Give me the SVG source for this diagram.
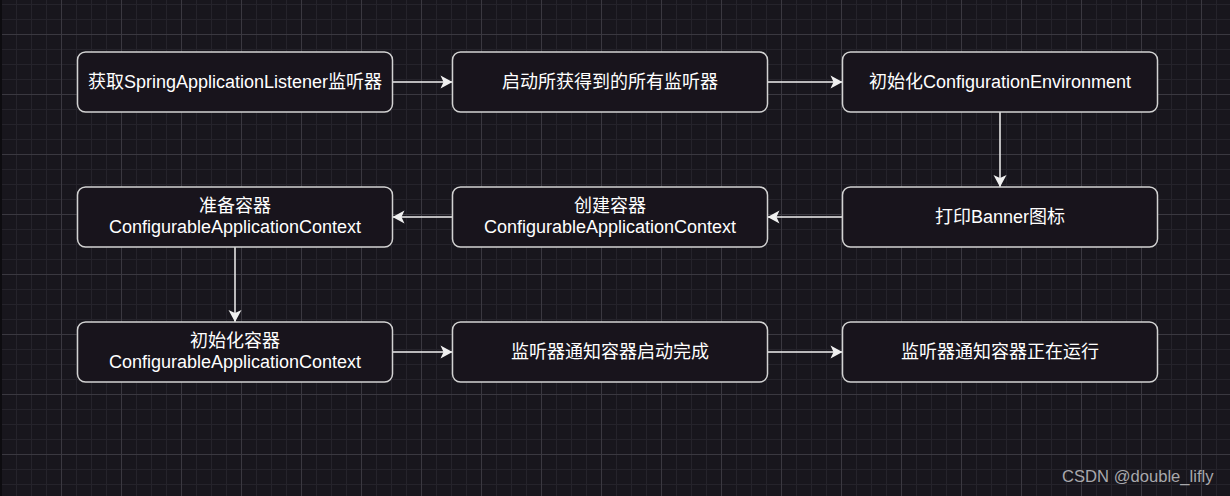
<svg xmlns="http://www.w3.org/2000/svg" width="1230" height="496" viewBox="0 0 1230 496">
<defs>
<pattern id="grid" x="61" y="34" width="60" height="60" patternUnits="userSpaceOnUse">
<rect x="15" y="0" width="1" height="60" fill="#25232b"/>
<rect x="30" y="0" width="1" height="60" fill="#25232b"/>
<rect x="45" y="0" width="1" height="60" fill="#25232b"/>
<rect x="0" y="15" width="60" height="1" fill="#25232b"/>
<rect x="0" y="30" width="60" height="1" fill="#25232b"/>
<rect x="0" y="45" width="60" height="1" fill="#25232b"/>
<rect x="0" y="0" width="1" height="60" fill="#3a3840"/>
<rect x="0" y="0" width="60" height="1" fill="#3a3840"/>
</pattern>
<marker id="arr" markerUnits="userSpaceOnUse" markerWidth="14" markerHeight="14" refX="13" refY="7" orient="auto">
<path d="M1,0.5 L13,7 L1,13.5 L4,7 Z" fill="#f0f0f0"/>
</marker>
<style>
.box{fill:#18141c;stroke:#d2d2d2;stroke-width:1.5}
.t{font-family:"Liberation Sans","Noto Sans CJK SC",sans-serif;font-size:18px;fill:#ffffff;text-anchor:middle;dominant-baseline:central}
.c{fill:none;stroke:#f0f0f0;stroke-width:1.5;marker-end:url(#arr)}
.wm{font-family:"Liberation Sans","Noto Sans CJK SC",sans-serif;font-size:16.6px;fill:#a8a8ac}
</style>
</defs>
<rect width="1230" height="496" fill="#18161d"/>
<rect width="1230" height="496" fill="url(#grid)"/>
<rect x="0" y="0" width="2" height="496" fill="#0d0c10"/>
<g id="connectors">
<line class="c" x1="392.5" y1="82" x2="452.5" y2="82"/>
<line class="c" x1="767.5" y1="82" x2="842.5" y2="82"/>
<line class="c" x1="1000" y1="112" x2="1000" y2="187"/>
<line class="c" x1="842.5" y1="217" x2="767.5" y2="217"/>
<line class="c" x1="452.5" y1="217" x2="392.5" y2="217"/>
<line class="c" x1="235" y1="247" x2="235" y2="322"/>
<line class="c" x1="392.5" y1="352" x2="452.5" y2="352"/>
<line class="c" x1="767.5" y1="352" x2="842.5" y2="352"/>
</g>
<g id="n1"><rect class="box" x="77.5" y="52" width="315" height="60" rx="8"/><text class="t" x="235" y="82">获取SpringApplicationListener监听器</text></g>
<g id="n2"><rect class="box" x="452.5" y="52" width="315" height="60" rx="8"/><text class="t" x="610" y="82">启动所获得到的所有监听器</text></g>
<g id="n3"><rect class="box" x="842.5" y="52" width="315" height="60" rx="8"/><text class="t" x="1000" y="82">初始化ConfigurationEnvironment</text></g>
<g id="n4"><rect class="box" x="842.5" y="187" width="315" height="60" rx="8"/><text class="t" x="1000" y="217">打印Banner图标</text></g>
<g id="n5"><rect class="box" x="452.5" y="187" width="315" height="60" rx="8"/><text class="t" x="610" y="206">创建容器</text><text class="t" x="610" y="227">ConfigurableApplicationContext</text></g>
<g id="n6"><rect class="box" x="77.5" y="187" width="315" height="60" rx="8"/><text class="t" x="235" y="206">准备容器</text><text class="t" x="235" y="227">ConfigurableApplicationContext</text></g>
<g id="n7"><rect class="box" x="77.5" y="322" width="315" height="60" rx="8"/><text class="t" x="235" y="341">初始化容器</text><text class="t" x="235" y="362">ConfigurableApplicationContext</text></g>
<g id="n8"><rect class="box" x="452.5" y="322" width="315" height="60" rx="8"/><text class="t" x="610" y="352">监听器通知容器启动完成</text></g>
<g id="n9"><rect class="box" x="842.5" y="322" width="315" height="60" rx="8"/><text class="t" x="1000" y="352">监听器通知容器正在运行</text></g>
<text class="wm" x="1062" y="482">CSDN @double_lifly</text>
</svg>
